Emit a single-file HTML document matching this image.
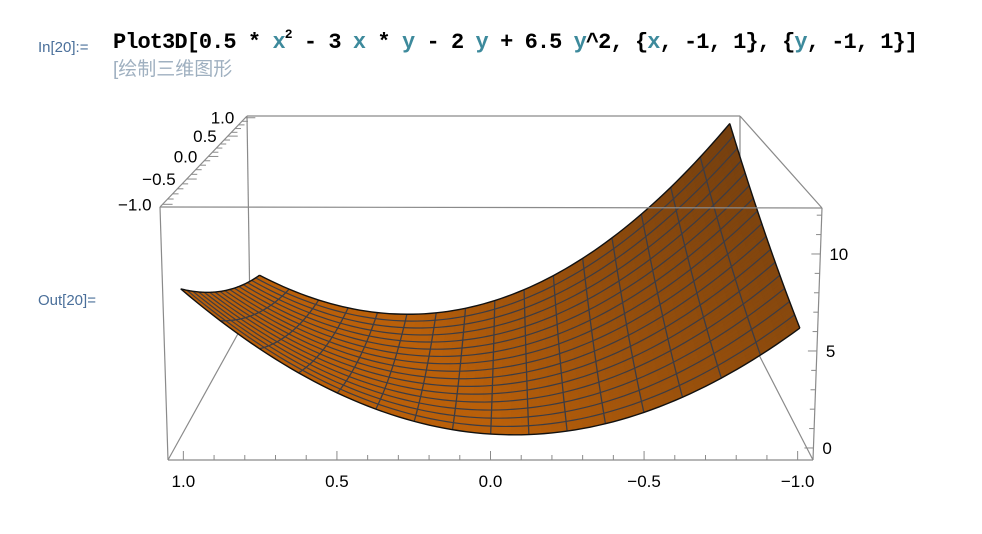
<!DOCTYPE html>
<html><head><meta charset="utf-8"><style>
html,body{margin:0;padding:0;background:#fff;width:982px;height:534px;overflow:hidden}
svg{position:absolute;left:0;top:0}
</style></head><body>
<svg id="chart" width="982" height="534" viewBox="0 0 982 534" xmlns="http://www.w3.org/2000/svg">
<text x="38" y="52" font-family="Liberation Sans, sans-serif" font-size="15" fill="#4a6f9a">In[20]:=</text>
<text x="113" y="48" textLength="805" lengthAdjust="spacing" font-family="Liberation Mono, monospace" font-weight="bold" font-size="22" fill="#000">Plot3D[0.5 * <tspan fill="#3d8a9c">x</tspan><tspan font-size="13" dy="-10">2</tspan><tspan dy="10"> - 3 </tspan><tspan fill="#3d8a9c">x</tspan> * <tspan fill="#3d8a9c">y</tspan> - 2 <tspan fill="#3d8a9c">y</tspan> + 6.5 <tspan fill="#3d8a9c">y</tspan>^2, {<tspan fill="#3d8a9c">x</tspan>, -1, 1}, {<tspan fill="#3d8a9c">y</tspan>, -1, 1}]</text>
<text x="113" y="75" font-family="Liberation Sans, 'Noto Sans CJK SC', sans-serif" font-size="19" fill="#9fb0c0">[绘制三维图形</text>
<text x="38" y="305" font-family="Liberation Sans, sans-serif" font-size="15" fill="#4a6f9a">Out[20]=</text>
<g id="back"></g><g id="surf"></g><g id="front"></g>
</svg>
<script>
const coeffs = [0.5, -3, -2, 6.5]; // a*x^2 + b*x*y + c*y + d*y^2
const xRange = [-1, 1];
const yRange = [-1, 1];
const zRange = [-0.62, 12.37];
const xTickVals = [-1, -0.5, 0, 0.5, 1];
const xTickLabels = ["\u22121.0", "\u22120.5", "0.0", "0.5", "1.0"];
const yTickVals = [1, 0.5, 0, -0.5, -1];
const yTickLabels = ["1.0", "0.5", "0.0", "\u22120.5", "\u22121.0"];
const zTickVals = [0, 5, 10];
const zTickLabels = ["0", "5", "10"];
const meshCount = 15;

const NS = "http://www.w3.org/2000/svg";
const F = {TL:[160,207],TR:[822,208],BL:[168,460],BR:[813,460]};
const B = {TL:[247,116],TR:[740,116],BL:[250,312],BR:[740,318]};
const rho = 1.25, pad = 0.05;
function f(x,y){return coeffs[0]*x*x+coeffs[1]*x*y+coeffs[2]*y+coeffs[3]*y*y;}
function bil(C,u,w){
  const top=[C.TL[0]+(C.TR[0]-C.TL[0])*u, C.TL[1]+(C.TR[1]-C.TL[1])*u];
  const bot=[C.BL[0]+(C.BR[0]-C.BL[0])*u, C.BL[1]+(C.BR[1]-C.BL[1])*u];
  return [bot[0]+(top[0]-bot[0])*w, bot[1]+(top[1]-bot[1])*w];
}
function P(x,y,z){
  const span=(xRange[1]-xRange[0])*(1+pad);
  const v=(x-(xRange[0]-pad))/span;
  const u=((yRange[1]+pad)-y)/((yRange[1]-yRange[0])*(1+pad));
  const w=(z-zRange[0])/(zRange[1]-zRange[0]);
  const a=bil(F,u,w), b=bil(B,u,w);
  const d=(1-v)+v*rho;
  return [(a[0]*(1-v)+b[0]*v*rho)/d,(a[1]*(1-v)+b[1]*v*rho)/d];
}
function el(tag,attrs,parent){const e=document.createElementNS(NS,tag);for(const k in attrs)e.setAttribute(k,attrs[k]);parent.appendChild(e);return e;}
const gB=document.getElementById('back'),gS=document.getElementById('surf'),gF=document.getElementById('front');
function line(p,q,g,name){
  const l=el('line',{x1:p[0],y1:p[1],x2:q[0],y2:q[1],stroke:'#8a8a8a','stroke-width':1.2},g);
  
  
}
line(B.TL,B.TR,gB,'box-back-top');line(B.TL,B.BL,gB,'box-back-left');line(B.TR,B.BR,gB,'box-back-right');
line(B.BL,B.BR,gB,'box-back-bottom');line(F.TL,B.TL,gB,'box-top-left-depth');line(F.TR,B.TR,gB,'box-top-right-depth');
line(F.BL,B.BL,gB,'box-bottom-left-depth');line(F.BR,B.BR,gB,'box-bottom-right-depth');
const N=60;
const xs=[],ys=[];
for(let i=0;i<=N;i++){xs.push(xRange[0]+(xRange[1]-xRange[0])*i/N);ys.push(yRange[0]+(yRange[1]-yRange[0])*i/N);}
function color(x,y){
  const fy=coeffs[1]*x+coeffs[2]+2*coeffs[3]*y;
  let g=Math.max(0,Math.min(1,(-fy)/18));
  g=Math.pow(g,0.9);
  const c0=[186,96,10],c1=[116,63,15];
  return 'rgb('+c0.map((c,k)=>Math.round(c+(c1[k]-c)*g)).join(',')+')';
}
for(let i=N-1;i>=0;i--){
  for(let j=0;j<N;j++){
    const x0=xs[i],x1=xs[i+1],y0=ys[j],y1=ys[j+1];
    const pts=[P(x0,y0,f(x0,y0)),P(x0,y1,f(x0,y1)),P(x1,y1,f(x1,y1)),P(x1,y0,f(x1,y0))];
    const c=color((x0+x1)/2,(y0+y1)/2);
    const pg=el('polygon',{points:pts.map(p=>p.join(',')).join(' '),fill:c,stroke:c,'stroke-width':0.6},gS);
    
    
  }
}
function poly(fn,name,sw,col){
  const pts=[];for(let k=0;k<=80;k++)pts.push(fn(k/80).join(','));
  const pl=el('polyline',{points:pts.join(' '),fill:'none',stroke:col,'stroke-width':sw},gS);
  
  
}
for(let m=1;m<=meshCount;m++){
  const t=m/(meshCount+1);
  const xv=xRange[0]+(xRange[1]-xRange[0])*t, yv=yRange[0]+(yRange[1]-yRange[0])*t;
  poly(s=>{const y=yRange[0]+(yRange[1]-yRange[0])*s;return P(xv,y,f(xv,y));},'mesh-line-x',1.2,'#3c3c44');
  poly(s=>{const x=xRange[0]+(xRange[1]-xRange[0])*s;return P(x,yv,f(x,yv));},'mesh-line-y',1.3,'#3c3c44');
}
[xRange[0],xRange[1]].forEach(xv=>poly(s=>{const y=yRange[0]+(yRange[1]-yRange[0])*s;return P(xv,y,f(xv,y));},'surface-boundary',1.4,'#111'));
[yRange[0],yRange[1]].forEach(yv=>poly(s=>{const x=xRange[0]+(xRange[1]-xRange[0])*s;return P(x,yv,f(x,yv));},'surface-boundary',1.4,'#111'));
line(F.TL,F.TR,gF,'box-front-top');line(F.TL,F.BL,gF,'box-front-left');line(F.TR,F.BR,gF,'box-front-right');line(F.BL,F.BR,gF,'box-front-bottom');
function txt(x,y,s,anchor,name){
  const t=el('text',{x:x,y:y,'font-family':'Liberation Sans, sans-serif','font-size':17,fill:'#000','text-anchor':anchor},gF);
  t.textContent=s;
  
  
}
function tick(p,dx,dy,name){
  const l=el('line',{x1:p[0],y1:p[1],x2:p[0]+dx,y2:p[1]+dy,stroke:'#8a8a8a','stroke-width':1},gF);
  
  
}
const zb=zRange[0], zt=zRange[1], xf=xRange[0]-pad;
for(let k=-1;k<=1.0001;k+=0.1){const p=P(xf,k,zb);tick(p,0,Math.abs(Math.round(k*10)%5)===0?-9:-5,'y-tick');}
yTickVals.forEach((v,i)=>{const p=P(xf,v,zb);txt(p[0],p[1]+27,yTickLabels[i],'middle','y-tick-label');});
const yr=yRange[0]-pad;
for(let z=0;z<=12.001;z+=1){const p=P(xf,yr,z);tick(p,z%5===0?-9:-5,0,'z-tick');}
zTickVals.forEach((v,i)=>{const p=P(xf,yr,v);txt(p[0]+9,p[1]+6,zTickLabels[i],'start','z-tick-label');});
const yl=yRange[1]+pad;
for(let x=-1;x<=1.0001;x+=0.1){const p=P(x,yl,zt);tick(p,Math.abs(Math.round(x*10)%5)===0?10:6,0,'x-tick');}
xTickVals.forEach((v,i)=>{const p=P(v,yl,zt);txt(p[0]-11,p[1]+6,xTickLabels[i],'end','x-tick-label');});
</script>
</body></html>
